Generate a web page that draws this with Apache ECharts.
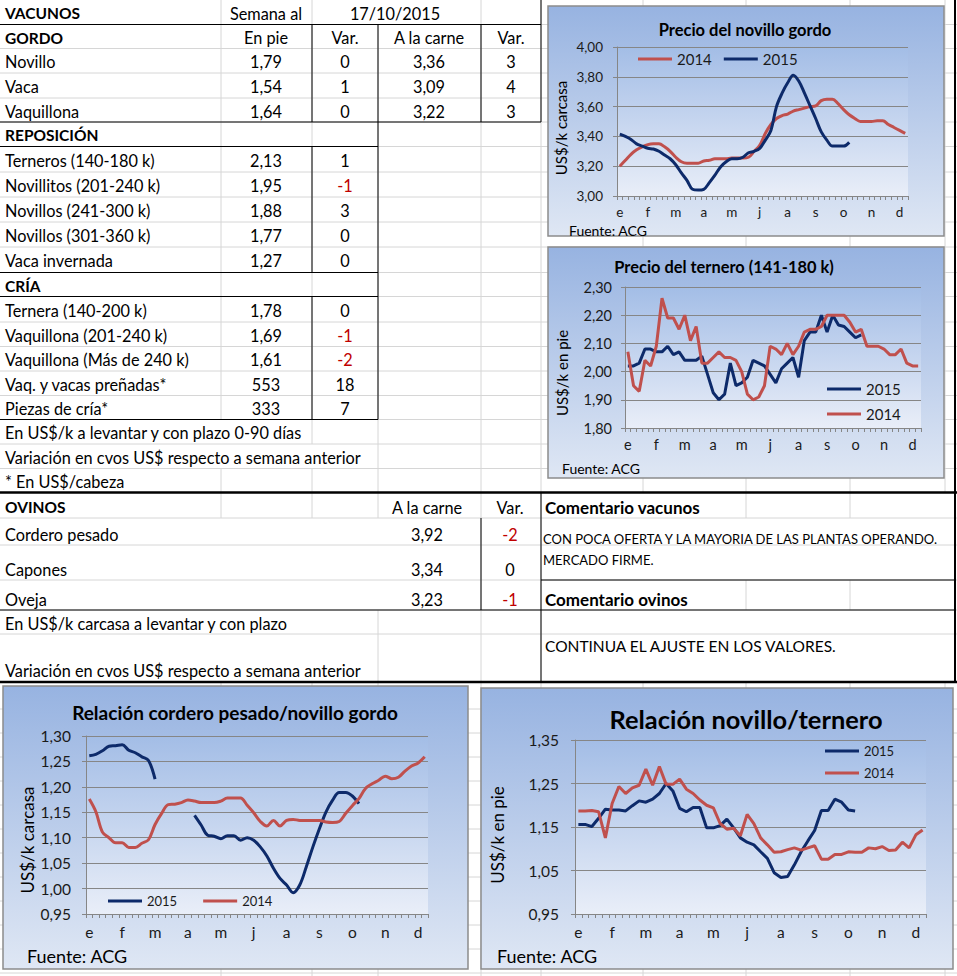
<!DOCTYPE html>
<html><head><meta charset="utf-8">
<script src="https://cdn.jsdelivr.net/npm/echarts@6/dist/echarts.min.js"></script>
<style>html,body{margin:0;padding:0;background:#fff}#c{width:957px;height:976px}</style>
</head><body><div id="c"></div>
<script>
// ---------------- DATA ----------------
const fechaSemana = '17/10/2015';
const gordoHeaders = ['En pie', 'Var.', 'A la carne', 'Var.'];
const gordoNames = ['Novillo', 'Vaca', 'Vaquillona'];
const gordoEnPie = ['1,79', '1,54', '1,64'];
const gordoVarPie = [0, 1, 0];
const gordoCarne = ['3,36', '3,09', '3,22'];
const gordoVarCarne = [3, 4, 3];
const reposNames = ['Terneros (140-180 k)', 'Novillitos (201-240 k)', 'Novillos (241-300 k)', 'Novillos (301-360 k)', 'Vaca invernada'];
const reposEnPie = ['2,13', '1,95', '1,88', '1,77', '1,27'];
const reposVar = [1, -1, 3, 0, 0];
const criaNames = ['Ternera (140-200 k)', 'Vaquillona (201-240 k)', 'Vaquillona (Más de 240 k)', 'Vaq. y vacas preñadas*', 'Piezas de cría*'];
const criaEnPie = ['1,78', '1,69', '1,61', '553', '333'];
const criaVar = [0, -1, -2, 18, 7];
const vacunosNotes = ['En US$/k a levantar y con plazo 0-90 días', 'Variación en cvos US$ respecto a semana anterior', '* En US$/cabeza'];
const ovinosNames = ['Cordero pesado', 'Capones', 'Oveja'];
const ovinosCarne = ['3,92', '3,34', '3,23'];
const ovinosVar = [-2, 0, -1];
const ovinosNotes = ['En US$/k carcasa a levantar y con plazo', 'Variación en cvos US$ respecto a semana anterior'];
const comentarioVacunos = ['CON POCA OFERTA Y LA MAYORIA DE LAS PLANTAS OPERANDO.', 'MERCADO FIRME.'];
const comentarioOvinos = 'CONTINUA EL AJUSTE EN LOS VALORES.';

const weekLabels = ['e','e','e','e','f','f','f','f','m','m','m','m','m','a','a','a','a','m','m','m','m','m','j','j','j','j','j','j','j','j','a','a','a','a','a','s','s','s','s','o','o','o','o','n','n','n','n','n','d','d','d','d'];

const novillo2014 = [3.20,3.24,3.28,3.31,3.33,3.345,3.35,3.35,3.33,3.30,3.26,3.23,3.22,3.22,3.22,3.235,3.24,3.25,3.25,3.25,3.255,3.255,3.255,3.26,3.30,3.34,3.42,3.48,3.52,3.54,3.55,3.57,3.58,3.59,3.60,3.605,3.64,3.65,3.65,3.62,3.58,3.545,3.52,3.50,3.50,3.50,3.505,3.505,3.48,3.46,3.44,3.42];
const novillo2015 = [3.415,3.40,3.38,3.35,3.335,3.32,3.315,3.30,3.275,3.25,3.21,3.155,3.105,3.045,3.04,3.045,3.09,3.14,3.195,3.23,3.25,3.25,3.26,3.29,3.30,3.32,3.375,3.44,3.60,3.69,3.76,3.81,3.77,3.69,3.605,3.52,3.43,3.375,3.335,3.335,3.335,3.36];

const ternero2014 = [2.07,1.95,1.93,2.04,2.02,2.09,2.26,2.19,2.19,2.15,2.20,2.11,2.16,2.03,2.03,2.05,2.07,2.05,2.05,2.04,2.00,1.92,1.90,1.91,1.95,2.09,2.08,2.06,2.10,2.06,2.09,2.14,2.15,2.15,2.16,2.20,2.20,2.20,2.20,2.175,2.14,2.15,2.09,2.09,2.09,2.08,2.06,2.06,2.08,2.03,2.02,2.02];
const ternero2015 = [2.02,2.02,2.03,2.08,2.08,2.07,2.07,2.09,2.06,2.07,2.04,2.04,2.04,2.055,1.99,1.925,1.90,1.92,2.03,1.95,1.96,1.98,2.04,2.03,2.02,1.99,1.96,2.01,2.03,2.05,1.98,2.11,2.14,2.14,2.20,2.14,2.20,2.165,2.16,2.14,2.12,2.13];

const cordero2015 = [1.261,1.264,1.271,1.28,1.281,1.283,1.272,1.267,1.259,1.252,1.215,null,null,null,null,null,1.144,1.125,1.105,1.103,1.098,1.104,1.104,1.095,1.10,1.095,1.082,1.064,1.04,1.02,1.007,0.992,1.007,1.043,1.082,1.118,1.151,1.174,1.189,1.189,1.182,1.167];
const cordero2014 = [1.176,1.151,1.111,1.10,1.09,1.09,1.081,1.081,1.089,1.096,1.126,1.148,1.165,1.166,1.169,1.174,1.172,1.169,1.169,1.169,1.172,1.178,1.178,1.178,1.164,1.149,1.132,1.123,1.134,1.123,1.134,1.136,1.134,1.134,1.134,1.134,1.131,1.13,1.132,1.148,1.163,1.177,1.197,1.206,1.213,1.221,1.216,1.219,1.231,1.241,1.247,1.259];

const relacion2015 = [1.156,1.156,1.151,1.17,1.191,1.189,1.189,1.187,1.199,1.21,1.207,1.214,1.227,1.25,1.233,1.193,1.185,1.195,1.195,1.148,1.148,1.153,1.168,1.148,1.125,1.115,1.109,1.093,1.078,1.045,1.034,1.036,1.063,1.093,1.118,1.142,1.188,1.188,1.214,1.207,1.189,1.187];
const relacion2014 = [1.187,1.187,1.188,1.185,1.125,1.204,1.243,1.227,1.24,1.246,1.283,1.246,1.289,1.248,1.248,1.26,1.237,1.227,1.212,1.20,1.194,1.158,1.145,1.147,1.13,1.179,1.158,1.125,1.109,1.092,1.093,1.098,1.102,1.097,1.102,1.107,1.076,1.076,1.087,1.087,1.093,1.092,1.092,1.102,1.10,1.105,1.096,1.097,1.115,1.102,1.132,1.143];

// ---------------- STYLE / LAYOUT ----------------
const FONT = 'Lato, "Open Sans", sans-serif';
const TS = 16.3, TB = 15.5;
const COL = {'2014': '#c0504d', '2015': '#0d2a6a'};
const NEG = '#c00000';
const GRIDC = '#d6d6d6';
const rowY = [0,24.5,48.5,73,98,122,146.5,172,197,222,247,272.5,296.5,322,346.5,371,395.5,419.5,444,468.5,492.5];
const colC = [266, 345, 429, 511];
const G = [];
function ln(x1, y1, x2, y2, c, w, z) {
  G.push({type: 'line', silent: true, z: z, shape: {x1, y1, x2, y2}, style: {stroke: c, lineWidth: w}});
}
function tx(x, y, text, o) {
  o = o || {};
  const size = o.size || (o.bold ? TB : TS);
  G.push({type: 'text', silent: true, z: o.z != null ? o.z : -8, x: x, y: y, rotation: o.rot || 0,
    style: {text: text, fill: o.color || '#000', font: (o.bold ? 'bold ' : '') + size + 'px ' + FONT,
      textAlign: o.align || 'left', textVerticalAlign: 'middle'}});
}
const cy = k => (rowY[k] + rowY[k + 1]) / 2 + 1;
const vc = v => v < 0 ? NEG : '#000';

// light spreadsheet gridlines
const hLight = rowY.slice(1, 20).concat([518, 545, 580, 610, 634, 709, 733, 757, 781, 805, 829, 853, 877, 901, 925, 949, 973]);
hLight.forEach(y => ln(0, y, 957, y, GRIDC, 1, -10));
const vLight = [
  [221, [[0, 419.5], [468.5, 518], [682, 976]]],
  [312, [[0, 444], [468.5, 518], [682, 976]]],
  [378, [[24.5, 518], [610, 976]]],
  [481, [[0, 976]]],
  [541, [[0, 976]]],
  [643, [[0, 492], [682, 976]]],
  [746, [[0, 518], [580, 610], [682, 976]]],
  [850, [[0, 518], [580, 610], [682, 976]]],
  [945, [[0, 492], [682, 976]]]
];
vLight.forEach(([x, segs]) => segs.forEach(s => ln(x, s[0], x, s[1], GRIDC, 1, -10)));

// black borders
const B = '#000';
[[24.5, 0, 541], [122, 0, 541], [146.5, 0, 378], [272.5, 0, 378], [296.5, 0, 378], [419.5, 0, 378], [610, 0, 955], [580, 541, 955]]
  .forEach(([y, a, b]) => ln(a, y, b, y, B, 1, -9));
ln(0, 492.5, 957, 492.5, B, 2.5, -9);
ln(0, 682, 957, 682, B, 2.5, -9);
[[541, 0, 122], [481, 24.5, 122], [378, 24.5, 419.5], [312, 24.5, 122], [312, 146.5, 272.5], [312, 296.5, 419.5], [541, 492.5, 682], [481, 518, 610]]
  .forEach(([x, a, b]) => ln(x, a, x, b, B, 1, -9));
ln(955, 0, 955, 682, B, 2, -9);

// table texts
tx(5, cy(0), 'VACUNOS', {bold: true});
tx(colC[0], cy(0), 'Semana al', {align: 'center'});
tx(395, cy(0), fechaSemana, {align: 'center'});
tx(5, cy(1), 'GORDO', {bold: true});
gordoHeaders.forEach((h, i) => tx(colC[i], cy(1), h, {align: 'center'}));
gordoNames.forEach((n, i) => {
  const k = 2 + i;
  tx(5, cy(k), n);
  tx(colC[0], cy(k), gordoEnPie[i], {align: 'center'});
  tx(colC[1], cy(k), String(gordoVarPie[i]), {align: 'center', color: vc(gordoVarPie[i])});
  tx(colC[2], cy(k), gordoCarne[i], {align: 'center'});
  tx(colC[3], cy(k), String(gordoVarCarne[i]), {align: 'center', color: vc(gordoVarCarne[i])});
});
tx(5, cy(5), 'REPOSICIÓN', {bold: true});
reposNames.forEach((n, i) => {
  const k = 6 + i;
  tx(5, cy(k), n);
  tx(colC[0], cy(k), reposEnPie[i], {align: 'center'});
  tx(colC[1], cy(k), String(reposVar[i]), {align: 'center', color: vc(reposVar[i])});
});
tx(5, cy(11), 'CRÍA', {bold: true});
criaNames.forEach((n, i) => {
  const k = 12 + i;
  tx(5, cy(k), n);
  tx(colC[0], cy(k), criaEnPie[i], {align: 'center'});
  tx(colC[1], cy(k), String(criaVar[i]), {align: 'center', color: vc(criaVar[i])});
});
vacunosNotes.forEach((n, i) => tx(5, cy(17 + i), n));

// ovinos
tx(5, 507, 'OVINOS', {bold: true});
tx(427, 507, 'A la carne', {align: 'center'});
tx(510, 507, 'Var.', {align: 'center'});
const ovY = [534, 569, 599];
ovinosNames.forEach((n, i) => {
  tx(5, ovY[i], n);
  tx(427, ovY[i], ovinosCarne[i], {align: 'center'});
  tx(510, ovY[i], String(ovinosVar[i]), {align: 'center', color: vc(ovinosVar[i])});
});
tx(5, 623, ovinosNotes[0]);
tx(5, 670, ovinosNotes[1]);
tx(545, 507, 'Comentario vacunos', {bold: true, size: 17});
tx(543, 539, comentarioVacunos[0], {size: 13});
tx(543, 560, comentarioVacunos[1], {size: 13});
tx(545, 599, 'Comentario ovinos', {bold: true, size: 17});
tx(545, 646, comentarioOvinos, {size: 15.5});

// ---------------- CHARTS ----------------
const charts = [
  {frame: [548, 6, 396, 230], grid: [617, 47, 291, 149], y: [3, 4, 0.2], title: 'Precio del novillo gordo', tcx: 745, tcy: 30, ts: 16.5,
   yname: 'US$/k carcasa', ncx: 561, ncy: 128, ns: 15, ls: 13.5, xm: 9, ym: 14,
   legend: {orient: 'horizontal', left: 638, cy: 59, size: 15, gap: 12, order: ['2014', '2015']},
   fuente: [569, 230, 14], smooth: 0.35, order: ['2014', '2015'], data: {'2014': novillo2014, '2015': novillo2015}},
  {frame: [548, 247, 396, 231], grid: [625, 287, 296, 141], y: [1.8, 2.3, 0.1], title: 'Precio del ternero (141-180 k)', tcx: 724, tcy: 267, ts: 16.4,
   yname: 'US$/k en pie', ncx: 562, ncy: 373, ns: 15, ls: 14.5, xm: 9, ym: 13,
   legend: {orient: 'vertical', left: 827, cy: 389, size: 15, spacing: 25, order: ['2015', '2014']},
   fuente: [562, 468, 14], smooth: false, order: ['2015', '2014'], data: {'2014': ternero2014, '2015': ternero2015}},
  {frame: [3, 686, 465, 283], grid: [86, 736, 342, 178], y: [0.95, 1.30, 0.05], title: 'Relación cordero pesado/novillo gordo', tcx: 235, tcy: 712, ts: 19,
   yname: 'US$/k carcasa', ncx: 27, ncy: 840, ns: 17, ls: 15.5, xm: 10, ym: 15,
   legend: {orient: 'horizontal', left: 108, cy: 901, size: 13, gap: 26, order: ['2015', '2014']},
   fuente: [27, 956, 18], smooth: 0.35, order: ['2015', '2014'], data: {'2014': cordero2014, '2015': cordero2015}},
  {frame: [481, 688, 472, 281], grid: [575, 740, 351, 174], y: [0.95, 1.35, 0.1], title: 'Relación novillo/ternero', tcx: 746, tcy: 719, ts: 25.4,
   yname: 'US$/k en pie', ncx: 497, ncy: 835, ns: 17, ls: 15.5, xm: 10, ym: 16,
   legend: {orient: 'vertical', left: 825, cy: 751, size: 13, spacing: 22, order: ['2015', '2014']},
   fuente: [497, 956, 18], smooth: false, order: ['2015', '2014'], data: {'2014': relacion2014, '2015': relacion2015}}
];

const lin = (a, b) => ({type: 'linear', x: 0, y: 0, x2: 0, y2: 1, colorStops: [{offset: 0, color: a}, {offset: 1, color: b}]});
const grids = [], xAxes = [], yAxes = [], series = [], legends = [], titles = [];
const AX = '#868686';
charts.forEach((c, k) => {
  G.push({type: 'rect', silent: true, z: -5, shape: {x: c.frame[0], y: c.frame[1], width: c.frame[2], height: c.frame[3]},
    style: {fill: lin('#97b3e1', '#dfe7f4'), stroke: '#8c8c8c', lineWidth: 1.5}});
  tx(c.ncx, c.ncy, c.yname, {size: c.ns, align: 'center', rot: Math.PI / 2, z: 5});
  tx(c.fuente[0], c.fuente[1], 'Fuente: ACG', {size: c.fuente[2], z: 5});
  grids.push({left: c.grid[0], top: c.grid[1], width: c.grid[2], height: c.grid[3], show: true, borderWidth: 0,
    backgroundColor: lin('#a3bde6', '#e9eef8')});
  xAxes.push({type: 'category', gridIndex: k, data: weekLabels, boundaryGap: true,
    axisLine: {lineStyle: {color: AX, width: 1}},
    axisTick: {show: true, interval: 0, length: 4, lineStyle: {color: AX}},
    axisLabel: {interval: 4, margin: c.xm, fontSize: c.ls, fontFamily: FONT, color: '#1a1a1a'},
    splitLine: {show: false}});
  yAxes.push({type: 'value', gridIndex: k, min: c.y[0], max: c.y[1], interval: c.y[2],
    axisLine: {show: true, lineStyle: {color: AX, width: 1}},
    axisTick: {show: true, length: 4, lineStyle: {color: AX}},
    axisLabel: {margin: c.ym, fontSize: c.ls, fontFamily: FONT, color: '#1a1a1a', formatter: v => v.toFixed(2).replace('.', ',')},
    splitLine: {show: true, lineStyle: {color: AX, width: 1}}});
  c.order.forEach(name => {
    series.push({type: 'line', name: name, xAxisIndex: k, yAxisIndex: k, data: c.data[name], smooth: c.smooth,
      symbol: 'none', connectNulls: false, color: COL[name], itemStyle: {color: COL[name]},
      lineStyle: {color: COL[name], width: 3}, z: 3});
  });
  const L = c.legend, lh = L.size + 2;
  const lg = {orient: L.orient, left: L.left, top: L.cy - lh / 2, padding: 0, data: L.order, icon: 'rect',
    itemWidth: 34, itemHeight: 3, selectedMode: false,
    textStyle: {fontSize: L.size, fontFamily: FONT, color: '#1a1a1a', lineHeight: lh}};
  lg.itemGap = L.orient === 'vertical' ? L.spacing - lh : L.gap;
  legends.push(lg);
  titles.push({text: c.title, left: c.tcx, top: c.tcy - (c.ts * 1.2) / 2, textAlign: 'center', padding: 0,
    textStyle: {fontSize: c.ts, fontWeight: 'bold', fontFamily: FONT, color: '#000', lineHeight: c.ts * 1.2}});
});

const chart = echarts.init(document.getElementById('c'), null, {renderer: 'svg', width: 957, height: 976});
chart.setOption({
  animation: false,
  backgroundColor: '#ffffff',
  title: titles,
  legend: legends,
  grid: grids,
  xAxis: xAxes,
  yAxis: yAxes,
  series: series,
  graphic: {elements: G}
});
</script></body></html>
